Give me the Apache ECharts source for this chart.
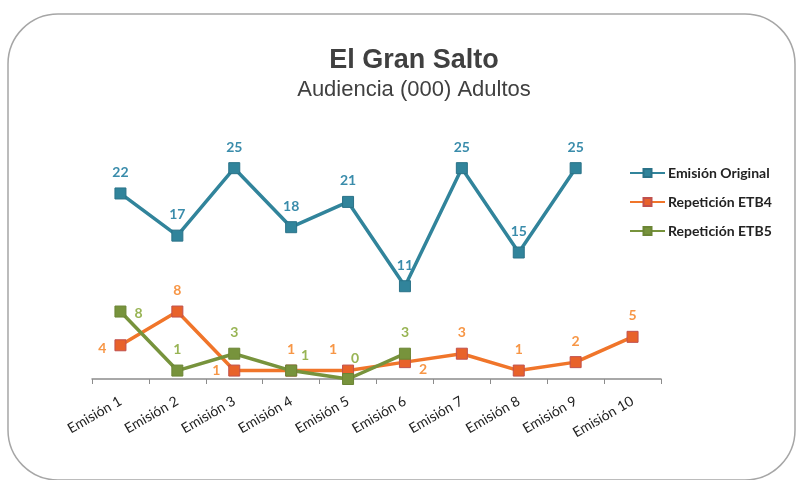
<!DOCTYPE html>
<html lang="es">
<head>
    <meta charset="UTF-8">
    <title>El Gran Salto</title>
    <script src="https://cdn.jsdelivr.net/npm/echarts@6/dist/echarts.min.js"></script>
    <style>
        * { margin: 0; padding: 0; box-sizing: border-box; }
        body { background: #fff; }
        #main { width: 796px; height: 480px; }
    </style>
</head>
<body>
    <div id="main"></div>
    <script>
        // datos
        const categories = ['Emisión 1', 'Emisión 2', 'Emisión 3', 'Emisión 4', 'Emisión 5',
                            'Emisión 6', 'Emisión 7', 'Emisión 8', 'Emisión 9', 'Emisión 10'];
        const original = [22, 17, 25, 18, 21, 11, 25, 15, 25];
        const etb4 = [4, 8, 1, 1, 1, 2, 3, 1, 2, 5];
        const etb5 = [8, 1, 3, 1, 0, 3];

        // colocación de etiquetas (solo estilo)
        const etb4Pos = [['left', [0, 3]], ['top', [0, 0]], ['left', [0, 0]], ['top', [0, 0]], ['top', [-15, 0]],
                         ['right', [0, 7]], ['top', [0, 0]], ['top', [0, 0]], ['top', [0, 0]], ['top', [0, 0]]];
        const etb5Pos = [['right', [0, 2]], ['top', [0, 0]], ['top', [0, 0]], ['top', [14, 6]], ['top', [7, 0]], ['top', [0, 0]]];

        var chart = echarts.init(document.getElementById('main'));

        const labelFont = { fontFamily: 'Lato', fontSize: 14, fontWeight: 'bold' };

        function withLabels(values, pos) {
            return values.map(function (v, i) {
                return { value: v, label: { position: pos[i][0], offset: pos[i][1] } };
            });
        }

        var option = {
            backgroundColor: '#fff',
            animation: false,
            graphic: [{
                type: 'rect',
                shape: { x: 8, y: 14, width: 787, height: 466, r: 50 },
                style: { fill: 'none', stroke: '#a6a6a6', lineWidth: 1.5 },
                z: -1
            }],
            title: {
                text: 'El Gran Salto',
                subtext: 'Audiencia (000) Adultos',
                left: 409,
                top: 42,
                textAlign: 'center',
                itemGap: 5,
                textStyle: { fontFamily: 'Liberation Sans', fontSize: 27, fontWeight: 'bold', color: '#404040' },
                subtextStyle: { fontFamily: 'Liberation Sans', fontSize: 22, color: '#404040' }
            },
            legend: {
                orient: 'vertical',
                left: 624,
                top: 161,
                itemWidth: 35,
                itemHeight: 10,
                itemGap: 15,
                textStyle: { fontFamily: 'Lato', fontSize: 14, fontWeight: 'bold', color: '#222', padding: [0, 0, 0, -2] }
            },
            grid: { left: 92, right: 135, top: 126, bottom: 101 },
            xAxis: {
                type: 'category',
                data: categories,
                boundaryGap: true,
                axisLine: { lineStyle: { color: '#8c8c8c', width: 1.5 } },
                axisTick: { show: true, length: 5, lineStyle: { color: '#8c8c8c' } },
                axisLabel: { rotate: 30, margin: 21, fontFamily: 'Lato', fontSize: 14, color: '#222', interval: 0 }
            },
            yAxis: {
                type: 'value',
                min: 0,
                max: 30,
                show: false
            },
            series: [
                {
                    name: 'Emisión Original',
                    type: 'line',
                    data: original,
                    symbol: 'rect',
                    symbolSize: 11,
                    lineStyle: { color: '#31849b', width: 3.5 },
                    itemStyle: { color: '#31849b', borderColor: '#2a7288', borderWidth: 1 },
                    label: Object.assign({ show: true, position: 'top', distance: 8, color: '#3a8cab' }, labelFont)
                },
                {
                    name: 'Repetición ETB4',
                    type: 'line',
                    data: withLabels(etb4, etb4Pos),
                    symbol: 'rect',
                    symbolSize: 11,
                    lineStyle: { color: '#f0752a', width: 3.5 },
                    itemStyle: { color: '#e8622a', borderColor: '#c0504d', borderWidth: 1 },
                    label: Object.assign({ show: true, distance: 8, color: '#f79646' }, labelFont)
                },
                {
                    name: 'Repetición ETB5',
                    type: 'line',
                    data: withLabels(etb5, etb5Pos),
                    symbol: 'rect',
                    symbolSize: 11,
                    lineStyle: { color: '#77933c', width: 3.5 },
                    itemStyle: { color: '#77933c', borderColor: '#6b8535', borderWidth: 1 },
                    label: Object.assign({ show: true, distance: 8, color: '#98b454' }, labelFont)
                }
            ]
        };

        chart.setOption(option);
    </script>
</body>
</html>
